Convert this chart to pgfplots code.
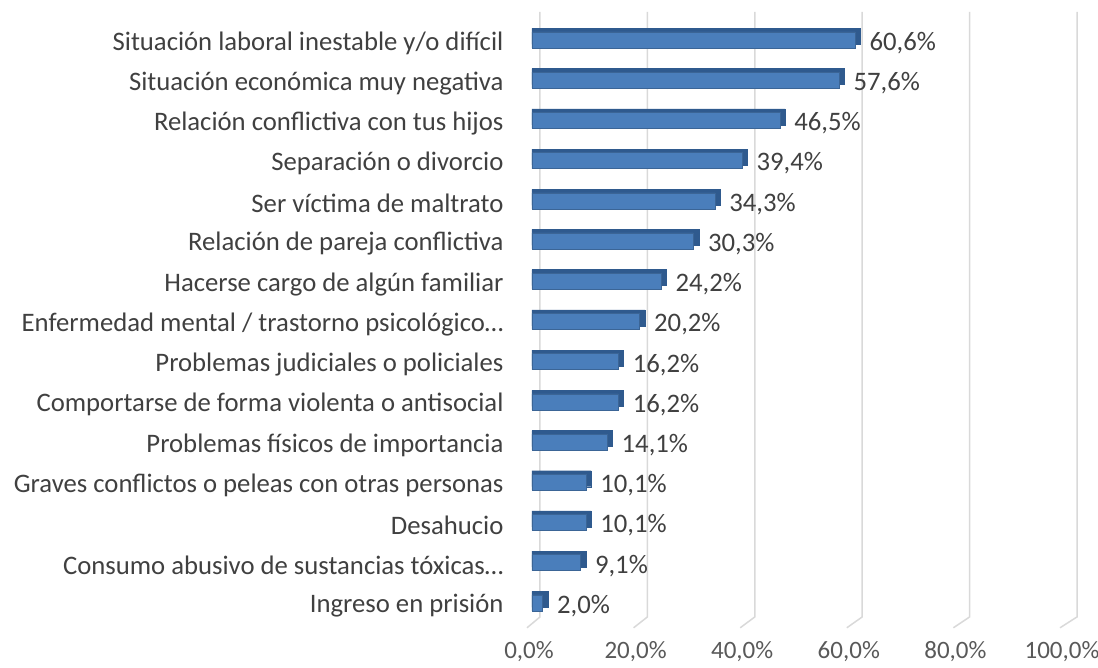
\documentclass[border=0pt]{standalone}
\usepackage{pgfplots}
\usepackage{pgfplotstable}
\usepackage{fontspec}
\setmainfont{Carlito}
\pgfplotsset{compat=1.18}
\definecolor{barface}{HTML}{4A7EBB}
\definecolor{barside}{HTML}{2F5A8E}
\definecolor{gridc}{HTML}{D9D9D9}
\definecolor{labc}{HTML}{404040}
\definecolor{tickc}{HTML}{595959}
\pgfplotstableread{
y v
0 2.0
1 9.1
2 10.1
3 10.1
4 14.1
5 16.2
6 16.2
7 20.2
8 24.2
9 30.3
10 34.3
11 39.4
12 46.5
13 57.6
14 60.6
}\datatab
\begin{document}
\begin{tikzpicture}
\path[use as bounding box] (0,0) rectangle (1098pt,668pt);
\begin{axis}[
  at={(532pt,41pt)}, anchor=south west,
  scale only axis, width=533pt, height=615.2pt,
  xmin=0, xmax=100, ymin=-0.6, ymax=14.7,
  xbar, bar width=16pt,
  axis line style={draw=none},
  major tick length=0pt,
  xtick={0,20,40,60,80,100},
  ytick={0,...,14},
  yticklabels={Ingreso en prisión,Consumo abusivo de sustancias tóxicas…,Desahucio,Graves conflictos o peleas con otras personas,Problemas físicos de importancia,Comportarse de forma violenta o antisocial,Problemas judiciales o policiales,Enfermedad mental / trastorno psicológico…,Hacerse cargo de algún familiar,Relación de pareja conflictiva,Ser víctima de maltrato,Separación o divorcio,Relación conflictiva con tus hijos,Situación económica muy negativa,Situación laboral inestable y/o difícil},
  yticklabel style={font=\fontsize{26.7}{32}\selectfont, text=labc, anchor=east, xshift=-25pt, yshift=-3pt},
  xticklabel={\pgfmathprintnumber[fixed,fixed zerofill,precision=1,use comma]{\tick}\%},
  xticklabel style={font=\fontsize{25}{30}\selectfont, text=tickc, yshift=-11pt, xshift=-3pt},
  /pgf/number format/assume math mode=true,
  clip=false,
]
\pgfplotsinvokeforeach{0,20,40,60,80,100}{
  \draw[gridc, line width=1.5pt] ([xshift=-5pt]axis cs:#1,-0.62) -- ([xshift={8pt+0.04pt*#1}]axis cs:#1,-0.35) -- ([xshift={8pt+0.04pt*#1}]axis cs:#1,14.7);
}
\addplot[fill=barside, draw=barside, bar shift=3.5pt] table[x expr=\thisrow{v}+1, y=y] {\datatab};
\addplot[fill=barface, draw=barface!80!black, line width=0.4pt, bar shift=0pt,
  point meta=x,
  nodes near coords={\pgfmathprintnumber[fixed,fixed zerofill,precision=1,use comma]{\pgfplotspointmeta}\%},
  nodes near coords style={font=\fontsize{26.7}{32}\selectfont, text=labc, anchor=west, xshift=11pt, yshift=-3pt}
] table[x=v, y=y] {\datatab};
\end{axis}
\end{tikzpicture}
\end{document}
